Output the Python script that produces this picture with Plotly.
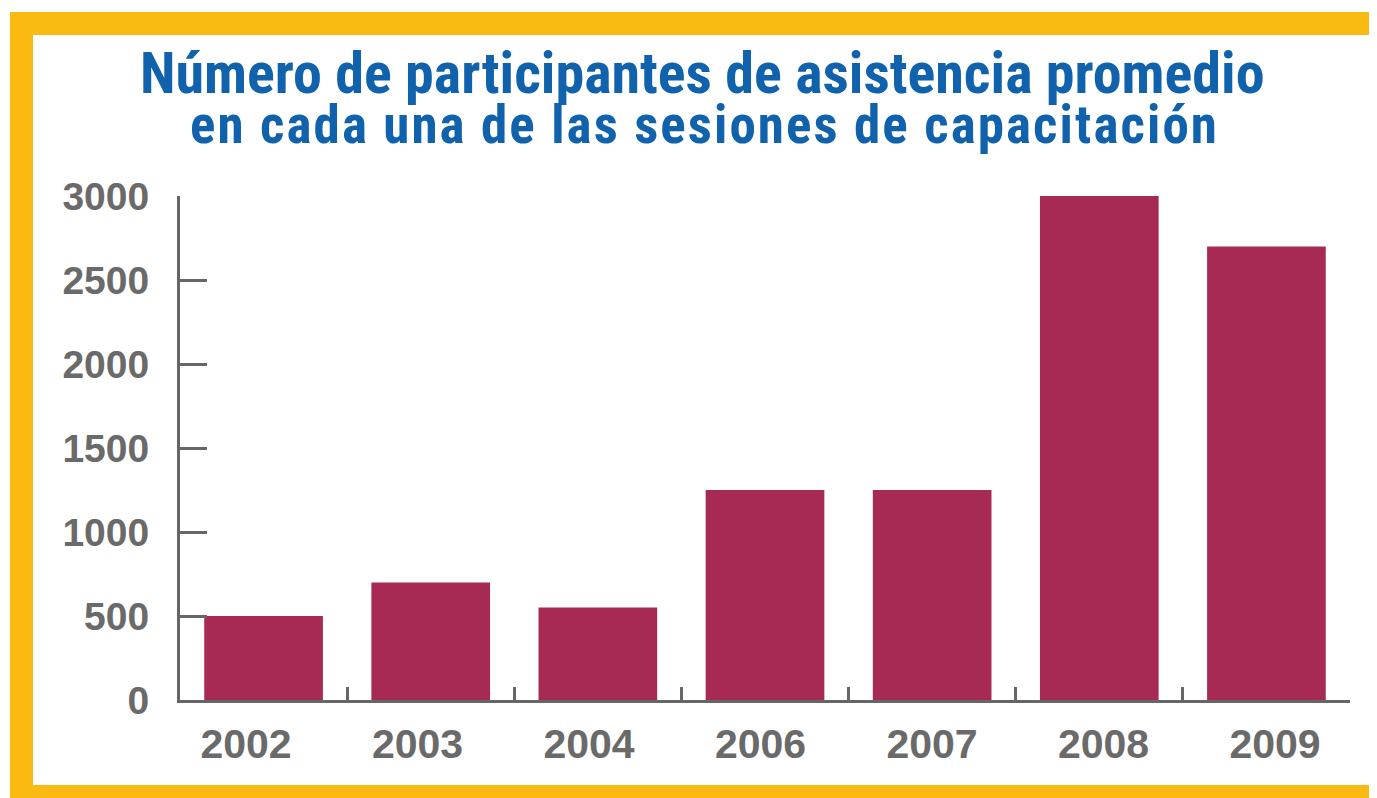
import plotly.graph_objects as go

years = ["2002", "2003", "2004", "2006", "2007", "2008", "2009"]
participants = [500, 700, 550, 1250, 1250, 3000, 2700]
y_ticks = [0, 500, 1000, 1500, 2000, 2500, 3000]
title_line1 = "Número de participantes de asistencia promedio"
title_line2 = "en cada una de las sesiones de capacitación"

W, H = 1369, 790
OFF = 8
L, R, T, B = 180 - OFF, 1350 - OFF, 196 - OFF, 700 - OFF

def px(x):
    return (x - OFF - L) / (R - L)

def py(y):
    return (B - (y - OFF)) / (B - T)

# label axis: centres of year labels sit at 246 ... 1275 px in the reference
lab0, lab6 = 246 - OFF, 1275 - OFF
span = 6 * (R - L) / (lab6 - lab0)
r0 = -(lab0 - L) / (R - L) * span
r1 = r0 + span

idx = list(range(len(years)))

fig = go.Figure()
fig.add_trace(go.Bar(
    x=years, y=participants,
    marker=dict(color="#A62A53", line=dict(width=0)),
    width=0.71, hoverinfo="x+y",
))
fig.add_trace(go.Scatter(
    x=idx, y=participants, xaxis="x2", mode="none", hoverinfo="skip", showlegend=False,
))

tick_font = dict(family="Liberation Sans, Arial", size=39, color="#6a6a6a", weight="bold")

fig.update_layout(
    width=W, height=H, autosize=False,
    margin=dict(l=L, r=W - R, t=T, b=H - B, pad=0),
    paper_bgcolor="white", plot_bgcolor="white",
    showlegend=False,
    xaxis=dict(
        type="category", showline=True, linecolor="#666666", linewidth=3,
        ticks="inside", tickson="boundaries", ticklen=13, tickwidth=3, tickcolor="#666666",
        showticklabels=False, showgrid=False, zeroline=False,
    ),
    xaxis2=dict(
        overlaying="x", anchor="y", side="bottom", range=[r0, r1],
        tickvals=idx, ticktext=years, ticks="", showline=False, showgrid=False, zeroline=False,
        tickfont=dict(family="Liberation Sans, Arial", size=41, color="#6a6a6a", weight="bold"),
        ticklabelstandoff=16,
    ),
    yaxis=dict(
        range=[0, 3000], tickvals=y_ticks, ticktext=[str(v) for v in y_ticks],
        showline=True, linecolor="#666666", linewidth=3,
        ticks="inside", ticklen=27, tickwidth=3, tickcolor="#666666",
        tickfont=tick_font, ticklabelstandoff=20, showgrid=False, zeroline=False,
    ),
    shapes=[dict(
        type="rect", xref="paper", yref="paper",
        x0=px(21.5), x1=px(1395), y0=py(23.5), y1=py(796.5),
        line=dict(color="#FBBA12", width=23), fillcolor="rgba(0,0,0,0)", layer="below",
    )],
    annotations=[
        dict(text=title_line1, xref="paper", yref="paper", x=px(702.5), y=py(73),
             xanchor="center", yanchor="middle", showarrow=False,
             font=dict(family="Roboto Condensed", size=58, color="#0F62AB", weight="bold")),
        dict(text=f'<span style="letter-spacing:2.1px">{title_line2}</span>',
             xref="paper", yref="paper", x=px(704), y=py(125),
             xanchor="center", yanchor="middle", showarrow=False,
             font=dict(family="Roboto Condensed", size=53, color="#0F62AB", weight="bold")),
    ],
)

fig.write_html("out.html")
